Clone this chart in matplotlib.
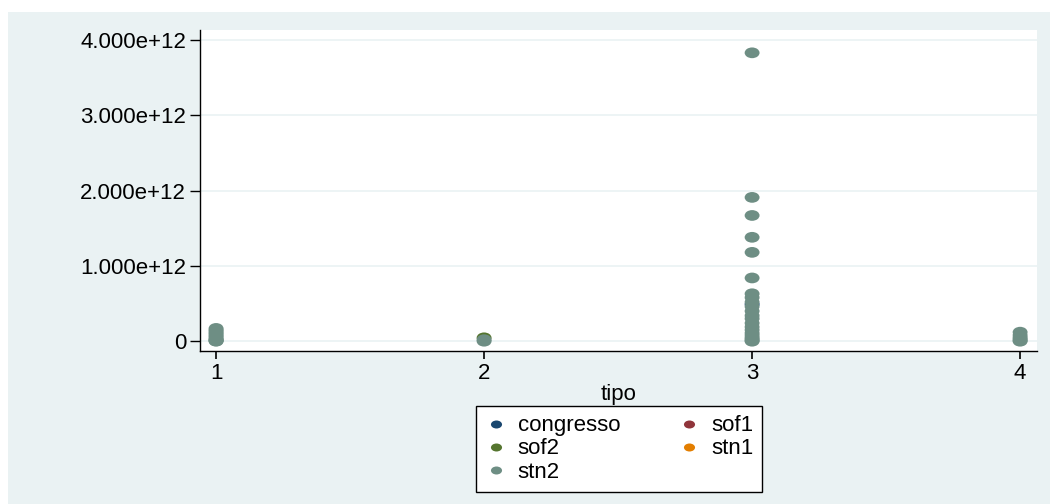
#!/usr/bin/env python3
"""Stata-style scatter of values by tipo, one colour per source."""

import matplotlib

matplotlib.use("Agg")
import matplotlib.pyplot as plt
from matplotlib.lines import Line2D
from matplotlib.patches import Rectangle
from matplotlib.path import Path
from matplotlib.transforms import Affine2D

plt.rcParams["font.family"] = ["Liberation Sans", "DejaVu Sans"]

# values (units of 1e12)
congresso_x = [3]
congresso_y = [0.49]
sof1_x = []
sof1_y = []
sof2_x = [2]
sof2_y = [0.045]
stn1_x = []
stn1_y = []
stn2_x = [1] * 12 + [2] * 2 + [3] * 22 + [4] * 6
stn2_y = (
    [0.17, 0.15, 0.13, 0.11, 0.09, 0.07, 0.05, 0.03, 0.02, 0.01, 0.005, 0.0]
    + [0.02, 0.0]
    + [3.83, 1.91, 1.67, 1.38, 1.18, 0.84, 0.63, 0.58, 0.52, 0.46, 0.40,
       0.34, 0.30, 0.24, 0.19, 0.15, 0.11, 0.08, 0.05, 0.03, 0.01, 0.0]
    + [0.12, 0.08, 0.05, 0.03, 0.01, 0.0]
)

series = [
    ("congresso", congresso_x, congresso_y, "#1a476f"),
    ("sof1", sof1_x, sof1_y, "#90353b"),
    ("sof2", sof2_x, sof2_y, "#55752f"),
    ("stn1", stn1_x, stn1_y, "#e37e00"),
    ("stn2", stn2_x, stn2_y, "#6e8e84"),
]
legend_order = ["congresso", "sof2", "stn2", "sof1", "stn1"]
y_ticks = [0, 1, 2, 3, 4]
y_labels = ["0", "1.000e+12", "2.000e+12", "3.000e+12", "4.000e+12"]
x_ticks = [1, 2, 3, 4]

W, H = 1050, 504
BG = "#eaf2f3"
FS = 16

fig = plt.figure(figsize=(W / 100, H / 100), dpi=100, facecolor="white")
fig.patches.append(
    Rectangle((8 / W, 0), 1 - 8 / W, 1 - 12 / H, transform=fig.transFigure,
              facecolor=BG, edgecolor="none", zorder=-10)
)

ax = fig.add_axes([200 / W, (H - 351) / H, 837 / W, 321 / H])
ax.set_facecolor("white")

# the source graph was stretched sideways, so markers are wide ellipses
ellipse = Path.unit_circle().transformed(Affine2D().scale(1.0, 0.72))

for name, xs, ys, color in series:
    if xs:
        ax.scatter(xs, [v * 1e12 for v in ys], marker=ellipse, s=115,
                   color=color, edgecolors="none", zorder=3)

ax.set_xlim(0.94, 4.063)
ax.set_ylim(-0.13e12, 4.133e12)
ax.set_yticks([v * 1e12 for v in y_ticks])
ax.set_yticklabels(y_labels)
ax.set_xticks(x_ticks)
ax.grid(axis="y", color=BG, linewidth=1.2, zorder=0)
ax.grid(axis="x", visible=False)
for side in ("top", "right"):
    ax.spines[side].set_visible(False)
for side in ("left", "bottom"):
    ax.spines[side].set_color("black")
    ax.spines[side].set_linewidth(1.0)
ax.tick_params(axis="y", length=7, width=1, labelsize=FS, color="black",
               pad=3)
ax.tick_params(axis="x", length=5.5, width=1.2, labelsize=FS, color="black",
               pad=3)
ax.set_xlabel("tipo", fontsize=FS, labelpad=0)

colors = {name: color for name, _, _, color in series}
handles = [
    Line2D([], [], linestyle="none", marker=ellipse, markersize=8,
           markerfacecolor=colors[n], markeredgecolor="none", label=n)
    for n in legend_order
]
leg = fig.legend(handles=handles, ncol=2, loc="center",
                 bbox_to_anchor=(619 / W, (H - 449) / H), fontsize=FS,
                 frameon=True, fancybox=False, edgecolor="black",
                 facecolor="white", framealpha=1, handletextpad=0.5,
                 columnspacing=2.6, labelspacing=0.1, borderpad=0.4,
                 handlelength=1.0)
leg.get_frame().set_linewidth(1.0)

fig.savefig("out.png", dpi=100, facecolor=fig.get_facecolor())
